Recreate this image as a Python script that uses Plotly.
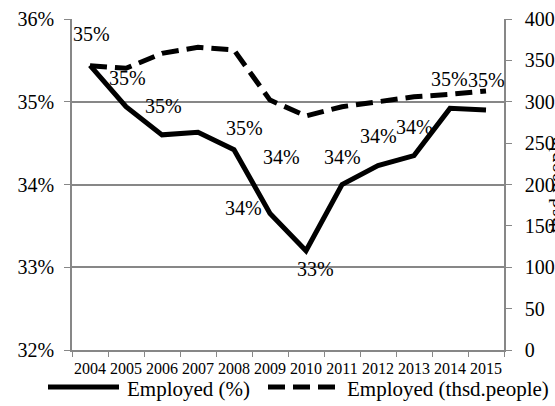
import plotly.graph_objects as go

# Employment series, 2004-2015
years = ["2004", "2005", "2006", "2007", "2008", "2009",
         "2010", "2011", "2012", "2013", "2014", "2015"]
employed_pct = [0.3544, 0.3494, 0.3460, 0.3463, 0.3442, 0.3365,
                0.3320, 0.3400, 0.3423, 0.3435, 0.3492, 0.3490]
employed_thsd = [343.6, 340.4, 358.5, 365.8, 362.5, 302.0,
                 282.8, 294.0, 300.0, 306.0, 309.0, 313.0]

# pixel offsets of each percentage label relative to its point (x right, y up)
label_dx = [1, 1, 1, 46, 47, -27, 9, 0, 0, 0, -1, 0]
label_dy = [31, 29, 29, 4, -7, 5, -18, 28, 29, 29, 29, 30]

FONT = "Liberation Serif, Times New Roman, DejaVu Serif, serif"
GREY = "#878787"

fig = go.Figure()
fig.add_trace(go.Scatter(
    x=years, y=employed_pct, mode="lines", name="Employed (%)",
    line=dict(color="black", width=5), showlegend=False,
))
fig.add_trace(go.Scatter(
    x=years, y=employed_thsd, mode="lines", name="Employed (thsd.people)",
    line=dict(color="black", width=5, dash="17px,8px"), yaxis="y2",
    showlegend=False,
))

annotations = []
# value labels on the percentage line, positioned by category index
for i, (v, dx, dy) in enumerate(zip(employed_pct, label_dx, label_dy)):
    annotations.append(dict(
        x=i, y=v, xref="x", yref="y", text=f"{v:.0%}", showarrow=False,
        xshift=dx, yshift=dy, font=dict(family=FONT, size=20, color="black"),
    ))

L, R, T, B = 72, 51, 19, 56
W, H = 555, 406
pw, ph = W - L - R, H - T - B


def px_x(x):
    return (x - L) / pw


def px_y(y):
    return (H - B - y) / ph


# secondary axis title, partly beyond the right edge
annotations.append(dict(
    x=px_x(556), y=px_y(185), xref="paper", yref="paper", text="thsd.people",
    textangle=-90, showarrow=False,
    font=dict(family=FONT, size=21, color="black"),
    xanchor="center", yanchor="middle",
))

# legend drawn below the plot
annotations.append(dict(
    x=px_x(125), y=px_y(389), xref="paper", yref="paper", text="Employed (%)",
    showarrow=False, xanchor="left", yanchor="middle",
    font=dict(family=FONT, size=21, color="black"),
))
annotations.append(dict(
    x=px_x(345), y=px_y(389), xref="paper", yref="paper",
    text="Employed (thsd.people)",
    showarrow=False, xanchor="left", yanchor="middle",
    font=dict(family=FONT, size=21, color="black"),
))

shapes = [
    dict(type="line", xref="paper", yref="paper",
         x0=px_x(48), x1=px_x(119), y0=px_y(387), y1=px_y(387),
         line=dict(color="black", width=5)),
    dict(type="line", xref="paper", yref="paper",
         x0=px_x(268), x1=px_x(339), y0=px_y(387), y1=px_y(387),
         line=dict(color="black", width=5, dash="17px,8px")),
]

fig.update_layout(
    width=W, height=H,
    margin=dict(l=L, r=R, t=T, b=B, pad=0, autoexpand=False),
    paper_bgcolor="white", plot_bgcolor="white",
    font=dict(family=FONT, color="black"),
    showlegend=False,
    xaxis=dict(
        type="category", tickson="boundaries", ticks="outside", ticklen=5,
        tickcolor=GREY, showline=True, linecolor=GREY, linewidth=1.5,
        showgrid=False, tickfont=dict(family=FONT, size=16, color="black"),
        tickangle=0, range=[-0.5, 11.5], fixedrange=True,
        ticklabelstandoff=3, automargin=False,
    ),
    yaxis=dict(
        range=[0.32, 0.36], dtick=0.01, tickformat=".0%",
        showgrid=True, gridcolor=GREY, gridwidth=1.5,
        showline=True, linecolor=GREY, linewidth=1.5,
        ticks="outside", ticklen=6, tickcolor=GREY,
        tickfont=dict(family=FONT, size=20, color="black"),
        zeroline=False, ticklabelstandoff=6, automargin=False,
    ),
    yaxis2=dict(
        range=[0, 400], dtick=50, overlaying="y", side="right",
        showgrid=False, showline=True, linecolor=GREY, linewidth=1.5,
        ticks="outside", ticklen=6, tickcolor=GREY,
        tickfont=dict(family=FONT, size=20, color="black"),
        zeroline=False, ticklabelstandoff=9, automargin=False,
    ),
    annotations=annotations,
    shapes=shapes,
)

fig.write_html("out.html")
